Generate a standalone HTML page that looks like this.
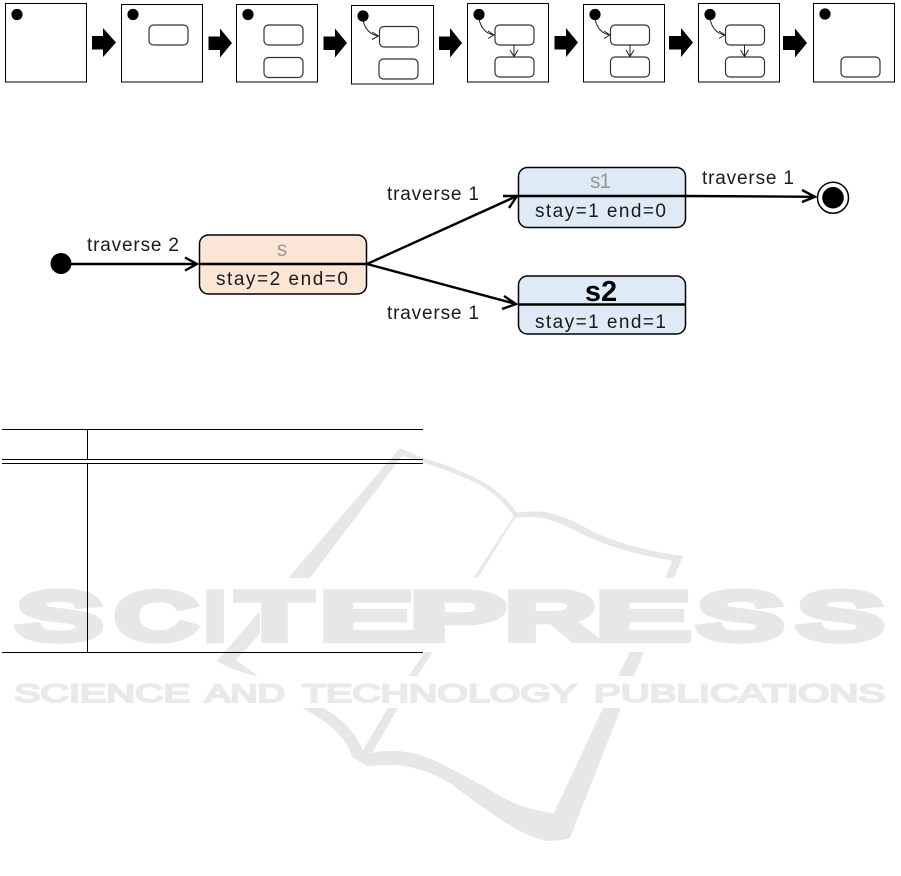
<!DOCTYPE html>
<html><head><meta charset="utf-8"><style>
html,body{margin:0;padding:0;background:#fff;width:901px;height:876px;overflow:hidden}
svg{display:block}
.l{font-family:"Liberation Sans",sans-serif;font-size:19px;fill:#1a1a1a}
.w{font-family:"Liberation Sans",sans-serif;font-weight:400;font-size:66px;fill:#e6e8e7;stroke:#e6e8e7;stroke-width:8.5;stroke-linejoin:miter}
.v{font-family:"Liberation Sans",sans-serif;font-weight:400;font-size:25px;fill:#e8eae9;stroke:#e8eae9;stroke-width:2}
</style></head><body>
<svg xmlns="http://www.w3.org/2000/svg" width="901" height="876" viewBox="0 0 901 876">
<defs>
<g id="book" fill="#e6e8e7">
<path d="M400 448 L217 661 Q232 670 259 677 L236 660 L310 578 L403 455 Z"/>
<path d="M400 448 L423 458 Q450 466 467 474 Q500 488 517 513 L515 518 Q500 496 480 485 Q450 470 403 456 Z"/>
<path d="M516 513 Q530 510 545 512 Q565 516 590 530 Q625 548 683 556 L673 561 Q625 553 590 538 Q560 522 543 518 Q530 516 515 518 Z"/>
<path d="M683 556 L621 708 L603 708 L665 578 L673 559 Z"/>
<path d="M516 516 L398 708 L388 708 L514 516 Z"/>
<path d="M302 708 L323 708 Q350 722 363 750 L388 708 L398 708 L372 753 Q385 750 397 751 Q420 752 445 766 Q465 776 487 788 Q520 810 554 813 L603 708 L621 708 L570 838 Q560 841 548 841 Q525 838 487 810 Q465 795 450 783 Q425 768 397 765 Q380 765 367 766 L352 757 Q345 730 302 708 Z"/>
</g>
<clipPath id="c1"><rect x="217" y="613" width="43" height="63"/></clipPath>
<clipPath id="c2"><rect x="440" y="630" width="8" height="22"/></clipPath>
</defs>

<!-- watermark -->
<use href="#book"/>
<rect x="0" y="578" width="901" height="74" fill="#fff"/>
<rect x="0" y="676" width="901" height="32" fill="#fff"/>
<use href="#book" clip-path="url(#c1)"/>
<use href="#book" clip-path="url(#c2)"/>
<g class="w">
<text x="17" y="639" textLength="84" lengthAdjust="spacingAndGlyphs">S</text>
<text x="116" y="639" textLength="80" lengthAdjust="spacingAndGlyphs">C</text>
<text x="204" y="639" textLength="22" lengthAdjust="spacingAndGlyphs">I</text>
<text x="238" y="639" textLength="73" lengthAdjust="spacingAndGlyphs">T</text>
<text x="321" y="639" textLength="90" lengthAdjust="spacingAndGlyphs">E</text>
<text x="411" y="639" textLength="94" lengthAdjust="spacingAndGlyphs">P</text>
<text x="506" y="639" textLength="90" lengthAdjust="spacingAndGlyphs">R</text>
<text x="597" y="639" textLength="91" lengthAdjust="spacingAndGlyphs">E</text>
<text x="698" y="639" textLength="84" lengthAdjust="spacingAndGlyphs">S</text>
<text x="798" y="639" textLength="84" lengthAdjust="spacingAndGlyphs">S</text>
</g>
<g class="v">
<text x="14" y="702" textLength="176" lengthAdjust="spacingAndGlyphs">SCIENCE</text>
<text x="205" y="702" textLength="80" lengthAdjust="spacingAndGlyphs">AND</text>
<text x="302" y="702" textLength="275" lengthAdjust="spacingAndGlyphs">TECHNOLOGY</text>
<text x="594" y="702" textLength="291" lengthAdjust="spacingAndGlyphs">PUBLICATIONS</text>
</g>

<!-- top strip -->
<g fill="#fff" stroke="#000" stroke-width="1">
<rect x="5.5" y="3.5" width="81" height="78.5"/>
<rect x="121.5" y="4.5" width="81" height="77.5"/>
<rect x="236.5" y="4.5" width="81" height="77.5"/>
<rect x="351.5" y="5.5" width="82" height="78.5"/>
<rect x="467.5" y="3.5" width="81" height="78.5"/>
<rect x="583.5" y="4.5" width="81" height="77.5"/>
<rect x="698.5" y="3.5" width="81" height="78.5"/>
<rect x="813.5" y="3.5" width="81" height="78.5"/>
</g>
<g fill="#000">
<circle cx="17" cy="14.5" r="5.6"/><circle cx="133" cy="14.5" r="5.6"/><circle cx="248" cy="14.5" r="5.6"/><circle cx="363" cy="16" r="5.6"/><circle cx="479" cy="14.5" r="5.6"/><circle cx="595" cy="14.5" r="5.6"/><circle cx="710" cy="14.5" r="5.6"/><circle cx="825" cy="14" r="5.6"/>
</g>
<g fill="#fff" stroke="#333" stroke-width="1.2">
<rect x="149" y="25" width="39" height="20" rx="4.5"/>
<rect x="264" y="25" width="39" height="20" rx="4.5"/><rect x="264" y="57.5" width="39" height="20" rx="4.5"/>
<rect x="379.5" y="26.5" width="39" height="20.5" rx="4.5"/><rect x="379" y="59" width="39" height="20" rx="4.5"/>
<rect x="495" y="25" width="39" height="20" rx="4.5"/><rect x="495" y="57" width="39" height="20" rx="4.5"/>
<rect x="610.5" y="25" width="39" height="20" rx="4.5"/><rect x="610.5" y="57" width="39" height="20" rx="4.5"/>
<rect x="725.5" y="25" width="39" height="20" rx="4.5"/><rect x="725.5" y="57" width="39" height="20" rx="4.5"/>
<rect x="841" y="57" width="39" height="20" rx="4.5"/>
</g>
<g fill="none" stroke="#222" stroke-width="1">
<path d="M363 20 Q366 34 378.5 36 M372 32 L378.5 36 L372 39.5"/>
<path d="M479 19 Q482 33 494 35 M488 31 L494 35 L488 38.5"/>
<path d="M595 19 Q598 33 610 35 M604 31 L610 35 L604 38.5"/>
<path d="M710 19 Q713 33 725 35 M719 31 L725 35 L719 38.5"/>
<path d="M514 45 V56.5 M510 50 L514 56.5 L518 50"/>
<path d="M630 45 V56.5 M626 50 L630 56.5 L634 50"/>
<path d="M744.5 45 V56.5 M740.5 50 L744.5 56.5 L748.5 50"/>
</g>
<g fill="#000">
<path d="M92 36 H103 V28 L116 42.5 L103 57 V49.5 H92 Z"/>
<path d="M208.500 36.500 H220 V28.500 L232 43 L220 57.500 V50 H208.500 Z"/>
<path d="M323.500 36.500 H335 V28.500 L347 43 L335 57.500 V50 H323.500 Z"/>
<path d="M439 36.500 H450 V28 L462 43 L450 57.500 V50 H439 Z"/>
<path d="M554.500 36 H566 V28 L578 42.500 L566 57 V49.500 H554.500 Z"/>
<path d="M669 36 H681 V28 L693 42.500 L681 57 V49.500 H669 Z"/>
<path d="M783 36 H795 V28.500 L807 43 L795 57.500 V50 H783 Z"/>
</g>

<!-- main diagram -->
<g fill="none" stroke="#000" stroke-width="2.4">
<path d="M61 264 H197 M185 257.500 L197 264 L185 270.500"/>
<path d="M367 264 L517 196 M503 196 L517 196 L509 208"/>
<path d="M367 264 L516 304 M504 296 L516 304 L502 309"/>
<path d="M686 196 L815 196.800 M802 190 L815 196.800 L802 202"/>
</g>
<circle cx="61" cy="263.500" r="10.500" fill="#000"/>
<rect x="199.500" y="235" width="167" height="59" rx="9" fill="#fbe5d6" stroke="#000" stroke-width="1.500"/>
<path d="M199.500 264 H367" stroke="#000" stroke-width="2.400"/>
<rect x="518.500" y="167.500" width="167" height="60" rx="9" fill="#deebf7" stroke="#000" stroke-width="1.500"/>
<path d="M518.500 196 H686" stroke="#000" stroke-width="2.400"/>
<rect x="518.500" y="276" width="167" height="58" rx="9" fill="#deebf7" stroke="#000" stroke-width="1.500"/>
<path d="M518.500 304.500 H686" stroke="#000" stroke-width="2.400"/>
<circle cx="833" cy="197.700" r="15.500" fill="#fff" stroke="#000" stroke-width="1.500"/>
<circle cx="833" cy="197.700" r="10.800" fill="#000"/>

<text class="l" x="87" y="251" textLength="92">traverse 2</text>
<text class="l" x="387" y="200" textLength="92">traverse 1</text>
<text class="l" x="387" y="319" textLength="92">traverse 1</text>
<text class="l" x="702" y="184" textLength="92">traverse 1</text>
<text class="l" x="282" y="256" text-anchor="middle" style="fill:#999;font-size:21px">s</text>
<text class="l" x="590" y="188" textLength="21" style="fill:#999;font-size:21px">s1</text>
<text class="l" x="216" y="285" textLength="132">stay=2 end=0</text>
<text class="l" x="535" y="217" textLength="131">stay=1 end=0</text>
<text class="l" x="535" y="328" textLength="131">stay=1 end=1</text>
<text x="601" y="301" text-anchor="middle" style="font-family:'Liberation Sans',sans-serif;font-weight:700;font-size:29px;fill:#000">s2</text>

<!-- table -->
<g stroke="#000" stroke-width="1" fill="none">
<path d="M2 429.500 H423 M2 459.500 H423 M2 463.500 H423 M2 652.500 H423"/>
<path d="M87.500 429.500 V459.500 M87.500 463.500 V652.500"/>
</g>
</svg>
</body></html>
